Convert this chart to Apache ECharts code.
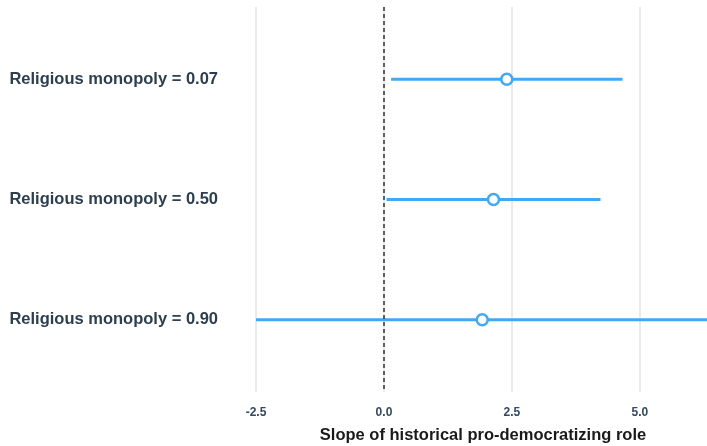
<!DOCTYPE html>
<html>
<head>
<meta charset="utf-8">
<script src="https://cdn.jsdelivr.net/npm/echarts@6/dist/echarts.min.js"></script>
<style>
html,body{margin:0;padding:0;background:#fff;}
#chart{width:707px;height:446px;}
</style>
</head>
<body>
<div id="chart"></div>
<script>
//数据
var categories = ['Religious monopoly = 0.07', 'Religious monopoly = 0.50', 'Religious monopoly = 0.90'];
var estimate = [2.40, 2.14, 1.92];
var lower = [0.14, 0.05, -2.60];
var upper = [4.66, 4.23, 6.44];
var xTicks = [-2.5, 0, 2.5, 5.0];

var blue = '#3fa9f5';

var pointData = [], barData = [];
for (var i = 0; i < categories.length; i++) {
	pointData.push([estimate[i], i]);
	barData.push([lower[i], upper[i], i]);
}

var myChart = echarts.init(document.getElementById('chart'));
var option = {
	animation: false,
	grid: {
		left: 256,
		right: -3,
		top: 7,
		bottom: 54,
		outerBoundsMode: 'none'
	},
	xAxis: {
		type: 'value',
		min: -2.5,
		max: 6.37,
		interval: 2.5,
		name: 'Slope of historical pro-democratizing role',
		nameLocation: 'middle',
		nameGap: 35,
		nameTextStyle: {
			fontFamily: 'Liberation Sans',
			fontWeight: 'bold',
			fontSize: 16.5,
			color: '#1a1a1a'
		},
		axisLine: { show: false },
		axisTick: { show: false },
		axisLabel: {
			margin: 15,
			fontFamily: 'Liberation Sans',
			fontWeight: 'bold',
			fontSize: 12,
			color: '#34495e',
			formatter: function (v) {
				for (var k = 0; k < xTicks.length; k++) {
					if (Math.abs(v - xTicks[k]) < 1e-6) return v.toFixed(1);
				}
				return '';
			}
		},
		splitLine: {
			show: true,
			lineStyle: { color: '#e3e3e3', width: 1.5 }
		}
	},
	yAxis: {
		type: 'value',
		inverse: true,
		min: -0.6,
		max: 2.6,
		axisLine: { show: false },
		axisTick: { show: false },
		splitLine: { show: false },
		axisLabel: {
			customValues: [0, 1, 2],
			margin: 38,
			fontFamily: 'Liberation Sans',
			fontWeight: 'bold',
			fontSize: 16.5,
			color: '#2c3e50',
			formatter: function (v) {
				return categories[Math.round(v)] || '';
			}
		}
	},
	series: [
		{
			type: 'custom',
			clip: true,
			data: barData,
			encode: { x: [0, 1], y: 2 },
			renderItem: function (params, api) {
				var p1 = api.coord([api.value(0), api.value(2)]);
				var p2 = api.coord([api.value(1), api.value(2)]);
				return {
					type: 'line',
					shape: { x1: p1[0], y1: p1[1], x2: p2[0], y2: p2[1] },
					style: { stroke: blue, lineWidth: 3 }
				};
			},
			z: 3
		},
		{
			type: 'scatter',
			data: pointData,
			symbol: 'circle',
			symbolSize: 11,
			itemStyle: {
				color: '#fff',
				borderColor: blue,
				borderWidth: 2.5,
				opacity: 1
			},
			z: 4,
			markLine: {
				silent: true,
				symbol: 'none',
				label: { show: false },
				lineStyle: { color: '#333', type: [4, 3], width: 1.5 },
				data: [{ xAxis: 0 }]
			}
		}
	]
};
myChart.setOption(option);
</script>
</body>
</html>
